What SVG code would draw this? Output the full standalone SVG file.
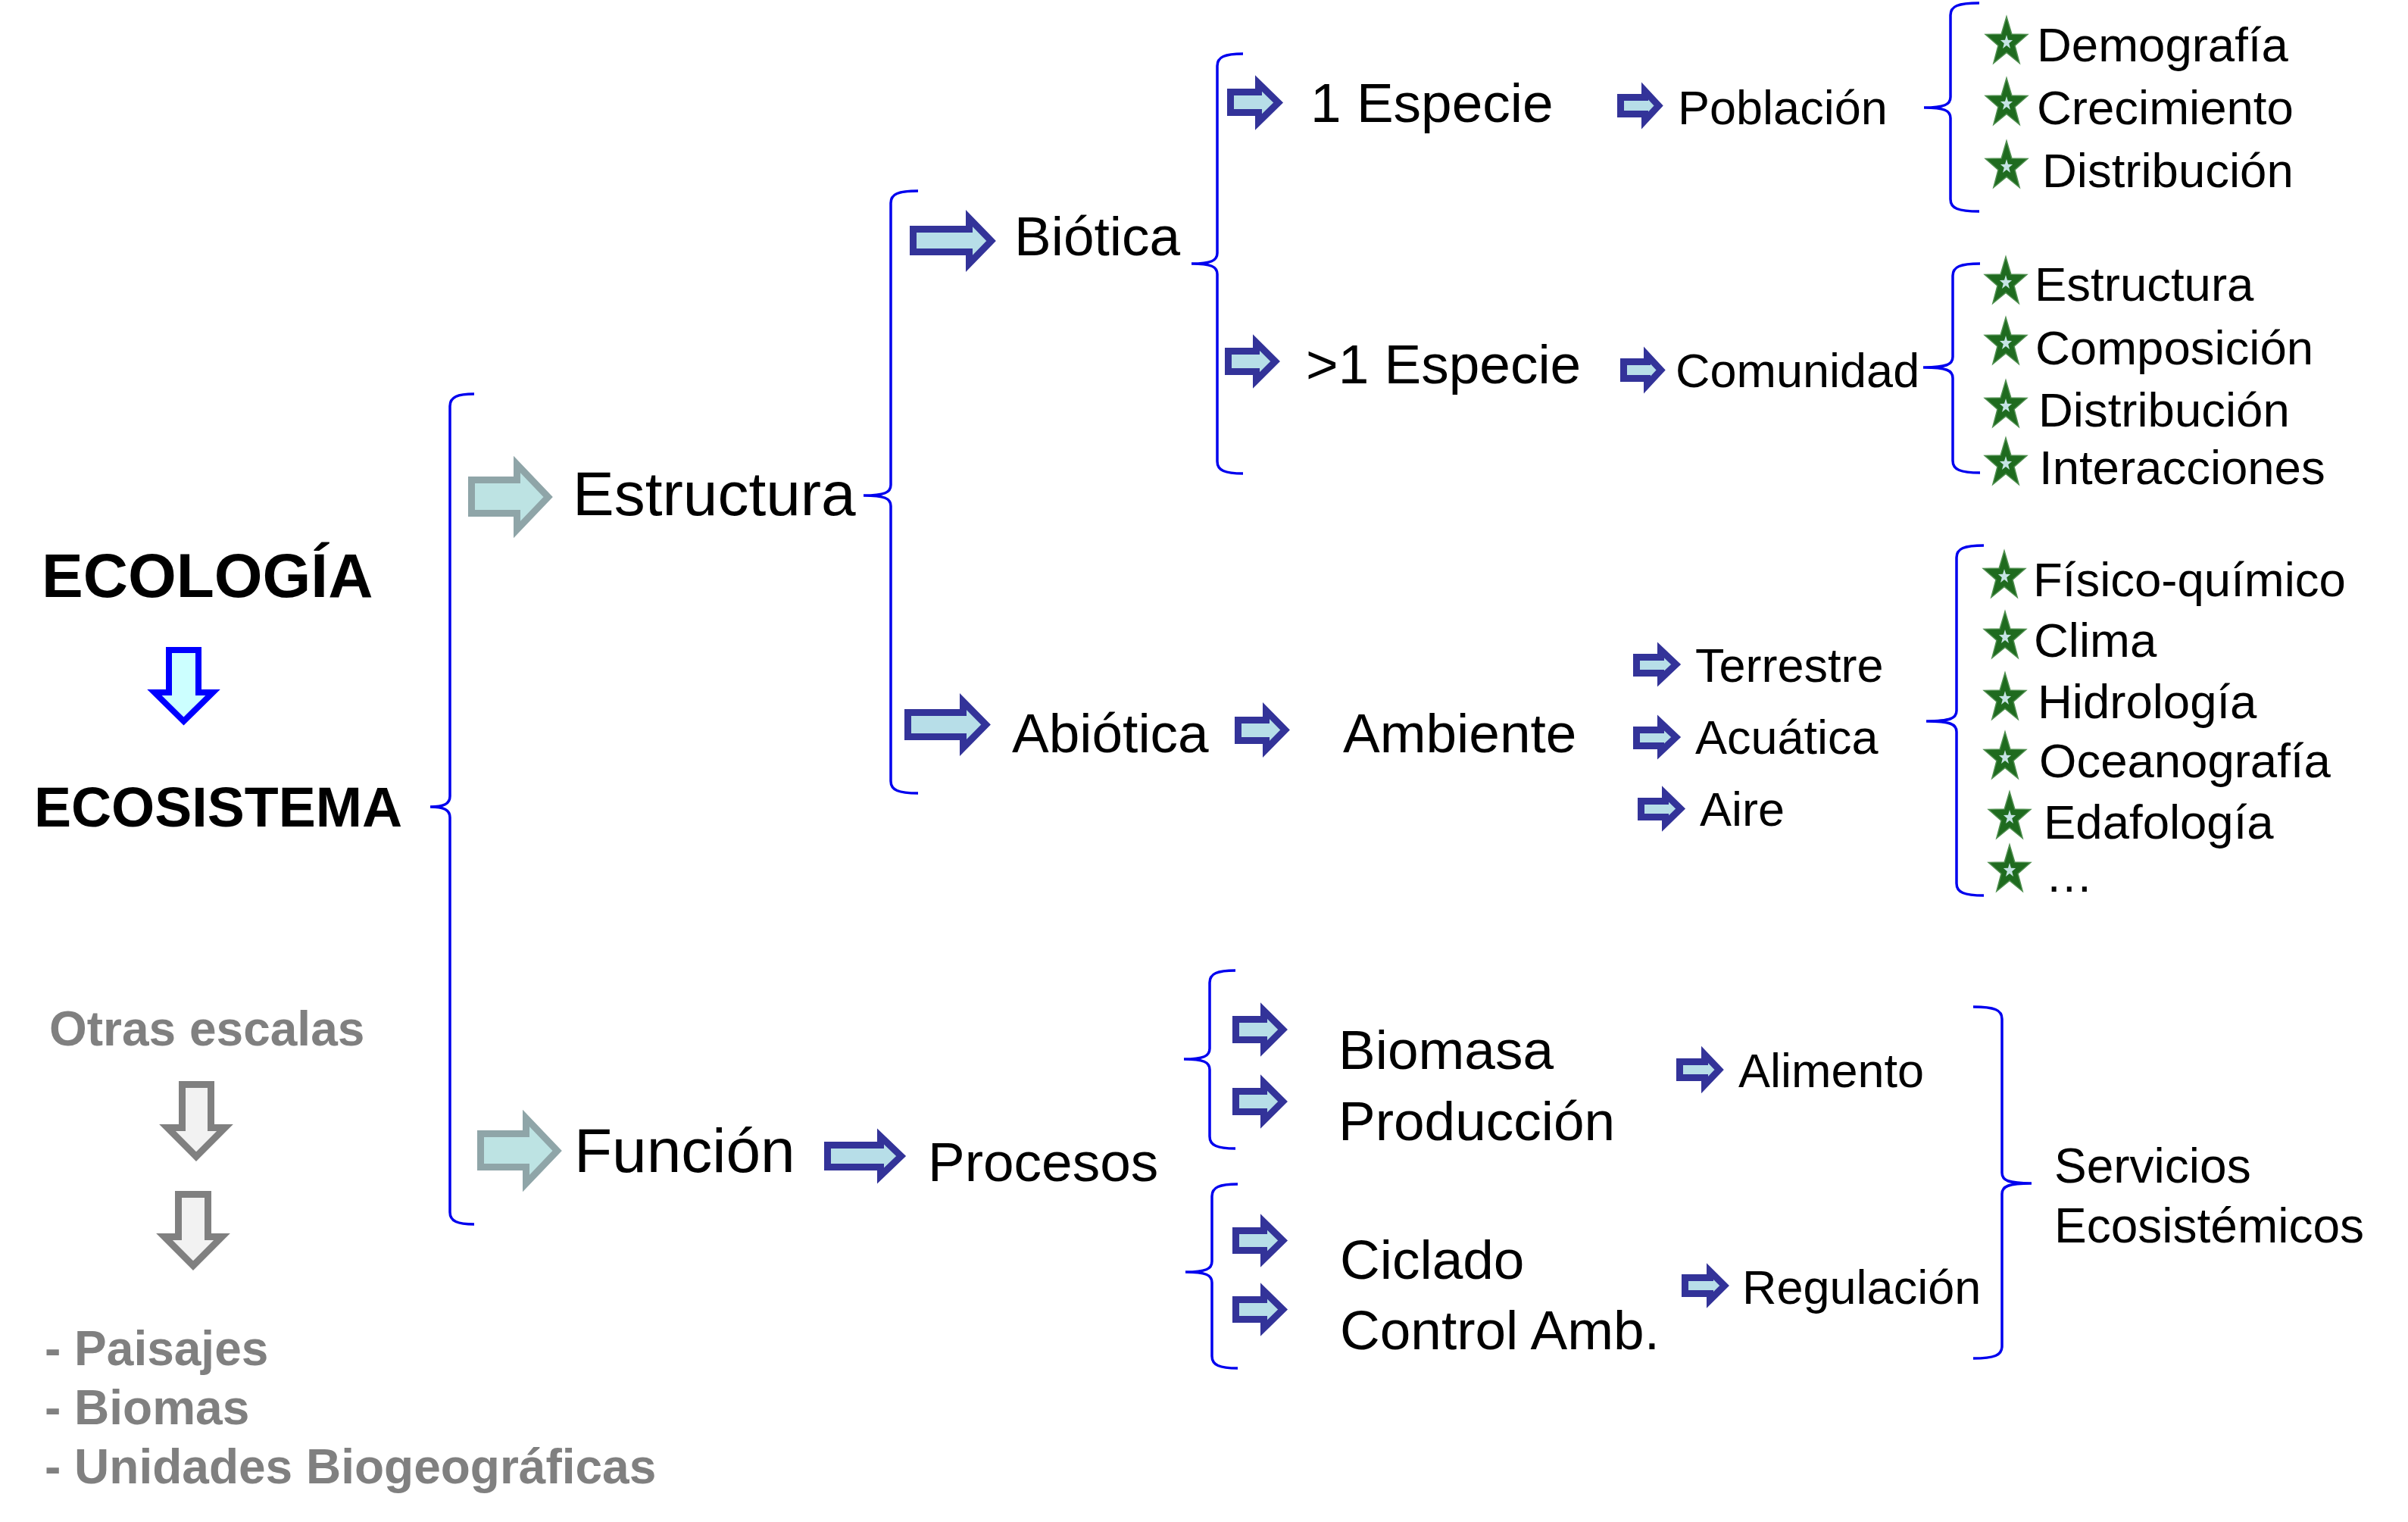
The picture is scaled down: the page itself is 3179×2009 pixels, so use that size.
<svg xmlns="http://www.w3.org/2000/svg" width="3179" height="2009" viewBox="0 0 3179 2009">
<style>
.t{font-family:"Liberation Sans",Arial,sans-serif;fill:#000}
.b{font-weight:bold}
.gr{fill:#808080}
.s82{font-size:82px}.s73{font-size:73px}.s72{font-size:72px}.s62{font-size:62px}.s63{font-size:63px}.s64{font-size:64px}.l{font-size:63.5px}
.arr{fill:#B7DEE8;stroke:#333399;stroke-width:9;stroke-linejoin:miter}
.garr{fill:#BDE3E3;stroke:#8FA5A8;stroke-width:9;stroke-linejoin:miter}
.darr{fill:#F2F2F2;stroke:#808080;stroke-width:9;stroke-linejoin:miter}
.brace{fill:none;stroke:#0000EE;stroke-width:3.5}
</style>
<defs>
<g id="star">
<polygon points="0,-34 6.83,-10.92 27.81,-10.51 11.04,4.17 17.18,27.51 0,13.5 -17.18,27.51 -11.04,4.17 -27.81,-10.51 -6.83,-10.92" fill="#1F6B1F" stroke="#4E8E4E" stroke-width="1.5"/>
<polygon points="0,-9.9 2,-3.2 8.1,-3.1 3.2,1.2 5,8 0,3.9 -5,8 -3.2,1.2 -8.1,-3.1 -2,-3.2" fill="#C6E4E4"/>
</g>
</defs>
<rect width="3179" height="2009" fill="#fff"/>

<g id="connectors">
<path class="brace" d="M626,520 C604,520 594,524 594,536 L594,1051 C594,1061 586,1065 568,1065 C586,1065 594,1069 594,1079 L594,1600 C594,1612 604,1616 626,1616"/>
<path class="brace" d="M1212,252 C1186,252 1176,256 1176,268 L1176,640 C1176,650 1168,654 1140,654 C1168,654 1176,658 1176,668 L1176,1031 C1176,1043 1186,1047 1212,1047"/>
<path class="brace" d="M1641,71 C1617,71 1607,75 1607,87 L1607,334 C1607,344 1599,348 1573,348 C1599,348 1607,352 1607,362 L1607,609 C1607,621 1617,625 1641,625"/>
<path class="brace" d="M2613,4 C2585,4 2575,8 2575,20 L2575,128 C2575,138 2567,142 2540,142 C2567,142 2575,146 2575,156 L2575,263 C2575,275 2585,279 2613,279"/>
<path class="brace" d="M2614,348 C2588,348 2578,352 2578,364 L2578,471 C2578,481 2570,485 2539,485 C2570,485 2578,489 2578,499 L2578,608 C2578,620 2588,624 2614,624"/>
<path class="brace" d="M2619,720 C2593,720 2583,724 2583,736 L2583,938 C2583,948 2575,952 2543,952 C2575,952 2583,956 2583,966 L2583,1166 C2583,1178 2593,1182 2619,1182"/>
<path class="brace" d="M1631,1281 C1607,1281 1597,1285 1597,1297 L1597,1384 C1597,1394 1589,1398 1563,1398 C1589,1398 1597,1402 1597,1412 L1597,1500 C1597,1512 1607,1516 1631,1516"/>
<path class="brace" d="M1634,1563 C1610,1563 1600,1567 1600,1579 L1600,1665 C1600,1675 1592,1679 1565,1679 C1592,1679 1600,1683 1600,1693 L1600,1790 C1600,1802 1610,1806 1634,1806"/>
<path class="brace" d="M2605,1329 C2633,1329 2643,1333 2643,1345 L2643,1548 C2643,1558 2651,1562 2682,1562 C2651,1562 2643,1566 2643,1576 L2643,1777 C2643,1789 2633,1793 2605,1793"/>
<polygon class="garr" points="622.5,633.5 682.5,633.5 682.5,613 723.6,656 682.5,699 682.5,677.5 622.5,677.5"/>
<polygon class="garr" points="634.5,1496.5 694.5,1496.5 694.5,1476 735.6,1519 694.5,1562 694.5,1540.5 634.5,1540.5"/>
<polygon class="arr" points="1205.5,302.5 1279.5,302.5 1279.5,288 1308.6,318 1279.5,348 1279.5,332.5 1205.5,332.5"/>
<polygon class="arr" points="1198.5,940.5 1271.5,940.5 1271.5,926 1301.6,956.5 1271.5,987 1271.5,972.5 1198.5,972.5"/>
<polygon class="arr" points="1634.5,950.5 1671.5,950.5 1671.5,938 1696.6,963.5 1671.5,989 1671.5,977.5 1634.5,977.5"/>
<polygon class="arr" points="1624.5,121.5 1661.5,121.5 1661.5,110 1687.6,135.5 1661.5,161 1661.5,148.5 1624.5,148.5"/>
<polygon class="arr" points="1621.5,463.5 1658.5,463.5 1658.5,452 1683.6,477 1658.5,502 1658.5,490.5 1621.5,490.5"/>
<polygon class="arr" points="2139.5,128.5 2171.5,128.5 2171.5,120 2189.6,139.5 2171.5,159 2171.5,150.5 2139.5,150.5"/>
<polygon class="arr" points="2143.5,477.5 2174.5,477.5 2174.5,469 2192.6,488.5 2174.5,508 2174.5,499.5 2143.5,499.5"/>
<polygon class="arr" points="2160.5,867.5 2192.5,867.5 2192.5,858 2212.6,877 2192.5,896 2192.5,888.5 2160.5,888.5"/>
<polygon class="arr" points="2160.5,963.5 2192.5,963.5 2192.5,954 2212.6,973 2192.5,992 2192.5,984.5 2160.5,984.5"/>
<polygon class="arr" points="2166.5,1057.5 2198.5,1057.5 2198.5,1048 2218.6,1067.5 2198.5,1087 2198.5,1078.5 2166.5,1078.5"/>
<polygon class="arr" points="1092.5,1511.5 1162.5,1511.5 1162.5,1500 1189.6,1526 1162.5,1552 1162.5,1540.5 1092.5,1540.5"/>
<polygon class="arr" points="1631.5,1345.5 1668.5,1345.5 1668.5,1334 1693.6,1359 1668.5,1384 1668.5,1372.5 1631.5,1372.5"/>
<polygon class="arr" points="1631.5,1440.5 1668.5,1440.5 1668.5,1429 1693.6,1454 1668.5,1479 1668.5,1467.5 1631.5,1467.5"/>
<polygon class="arr" points="1631.5,1624.5 1668.5,1624.5 1668.5,1613 1693.6,1637.5 1668.5,1662 1668.5,1650.5 1631.5,1650.5"/>
<polygon class="arr" points="1631.5,1715.5 1668.5,1715.5 1668.5,1704 1693.6,1728.5 1668.5,1753 1668.5,1741.5 1631.5,1741.5"/>
<polygon class="arr" points="2217.5,1401.5 2250.5,1401.5 2250.5,1392 2269.6,1412 2250.5,1432 2250.5,1422.5 2217.5,1422.5"/>
<polygon class="arr" points="2224.5,1686.5 2257.5,1686.5 2257.5,1678 2276.6,1697 2257.5,1716 2257.5,1707.5 2224.5,1707.5"/>
<polygon points="223,858 262,858 262,914 281,914 242.5,952 204,914 223,914" fill="#CCFFFF" stroke="#0000FF" stroke-width="8"/>
<polygon class="darr" points="240.5,1431.5 278.5,1431.5 278.5,1488.5 297,1488.5 259,1526.6 221,1488.5 240.5,1488.5"/>
<polygon class="darr" points="235.5,1576.5 274.5,1576.5 274.5,1632.5 293,1632.5 255,1670.6 217,1632.5 235.5,1632.5"/>
</g>

<g id="n-ecologia"><text class="t b s82" x="55" y="788">ECOLOGÍA</text></g>
<g id="n-ecosistema"><text class="t b" style="font-size:73.5px" x="45" y="1091">ECOSISTEMA</text></g>
<g id="n-otras"><text class="t b s64 gr" x="65" y="1380">Otras escalas</text></g>
<g id="n-escalas">
<text class="t b s64 gr" x="59" y="1802">- Paisajes</text>
<text class="t b s64 gr" x="59" y="1880">- Biomas</text>
<text class="t b s64 gr" x="59" y="1958">- Unidades Biogeográficas</text>
</g>
<g id="n-estructura"><text class="t s82" x="756" y="680">Estructura</text></g>
<g id="n-funcion"><text class="t s82" x="758" y="1547">Función</text></g>
<g id="n-procesos"><text class="t s73" x="1225" y="1559">Procesos</text></g>
<g id="n-biotica"><text class="t s73" x="1339" y="337">Biótica</text></g>
<g id="n-abiotica"><text class="t s73" x="1336" y="993">Abiótica</text></g>
<g id="n-ambiente"><text class="t s73" x="1773" y="993">Ambiente</text></g>
<g id="n-1especie"><text class="t s73" x="1730" y="161">1 Especie</text></g>
<g id="n-mas1especie"><text class="t s73" x="1724" y="506">&gt;1 Especie</text></g>
<g id="n-poblacion"><text class="t s63" x="2215" y="164">Población</text></g>
<g id="n-comunidad"><text class="t s63" x="2212" y="511">Comunidad</text></g>
<g id="n-terrestre"><text class="t s63" x="2238" y="900">Terrestre</text></g>
<g id="n-acuatica"><text class="t s63" x="2238" y="995">Acuática</text></g>
<g id="n-aire"><text class="t s63" x="2244" y="1090">Aire</text></g>
<g id="n-biomasa">
<text class="t s73" x="1767" y="1411">Biomasa</text>
<text class="t s73" x="1767" y="1505">Producción</text>
</g>
<g id="n-ciclado">
<text class="t s73" x="1769" y="1688">Ciclado</text>
<text class="t s73" x="1769" y="1781">Control Amb.</text>
</g>
<g id="n-alimento"><text class="t s63" x="2295" y="1435">Alimento</text></g>
<g id="n-regulacion"><text class="t s63" x="2300" y="1721">Regulación</text></g>
<g id="n-servicios">
<text class="t s64" x="2712" y="1561">Servicios</text>
<text class="t s64" x="2712" y="1640">Ecosistémicos</text>
</g>

<g id="n-poblacion-items">
<use href="#star" x="2649" y="56"/><text class="t l" x="2689" y="81">Demografía</text>
<use href="#star" x="2649" y="137"/><text class="t l" x="2689" y="164">Crecimiento</text>
<use href="#star" x="2649" y="220"/><text class="t l" x="2696" y="247">Distribución</text>
</g>
<g id="n-comunidad-items">
<use href="#star" x="2648" y="373"/><text class="t l" x="2686" y="397">Estructura</text>
<use href="#star" x="2648" y="453"/><text class="t l" x="2687" y="481">Composición</text>
<use href="#star" x="2648" y="536"/><text class="t l" x="2691" y="563">Distribución</text>
<use href="#star" x="2648" y="612"/><text class="t l" x="2692" y="639">Interacciones</text>
</g>
<g id="n-ambiente-items">
<use href="#star" x="2646" y="761"/><text class="t l" x="2684" y="787">Físico-químico</text>
<use href="#star" x="2647" y="841"/><text class="t l" x="2685" y="867">Clima</text>
<use href="#star" x="2647" y="922"/><text class="t l" x="2690" y="948">Hidrología</text>
<use href="#star" x="2647" y="1000"/><text class="t l" x="2692" y="1026">Oceanografía</text>
<use href="#star" x="2653" y="1079"/><text class="t l" x="2698" y="1107">Edafología</text>
<use href="#star" x="2653" y="1149"/><text class="t l" x="2700" y="1177">…</text>
</g>
</svg>
